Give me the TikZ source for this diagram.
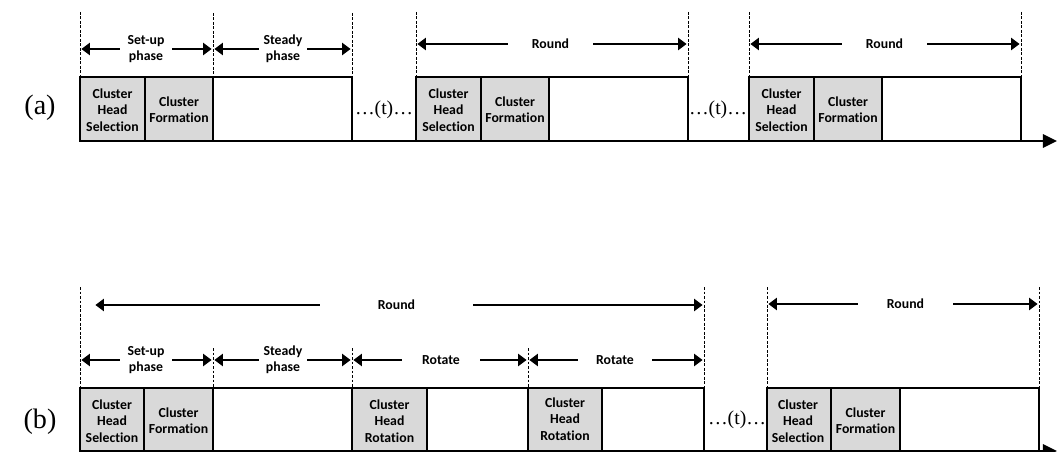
\documentclass[tikz,border=0pt]{standalone}
\usepackage{fontspec}
\setmainfont{Liberation Serif}
\newfontfamily\labelfont[Ligatures=NoCommon]{Carlito}
\usepackage{tikz}
\usetikzlibrary{arrows.meta}
\tikzset{
	cell/.style={draw,line width=1pt},
	head cell/.style={cell,fill=gray!30},
	cell text/.style={font=\labelfont\bfseries\fontsize{9.8}{11.6}\selectfont,align=center,inner sep=0pt},
	span text/.style={cell text,minimum height=0.5cm},
	guide/.style={line width=0.4pt,dash pattern=on 2pt off 1.2pt},
	span/.style={line width=1.5pt,-{Triangle[length=6pt,width=8.5pt]},shorten >=1pt},
	axis/.style={line width=1.4pt,-{Triangle[length=10pt,width=9.5pt]}},
	tag/.style={font=\fontsize{20}{22}\selectfont},
	gap/.style={font=\fontsize{14}{16}\selectfont}
}

\begin{document}
\begin{tikzpicture}[x=0.025cm,y=-0.025cm]
	\useasboundingbox (0,0) rectangle (1057,452);
	%%% (a)
	\coordinate (ga0) at (80,12);
	\coordinate (ga1) at (213,13);
	\coordinate (ga2) at (352,13);
	\coordinate (ga3) at (416,12);
	\coordinate (ga4) at (688,12);
	\coordinate (ga5) at (749,12);
	\coordinate (ga6) at (1021,12);
	\draw[guide] (ga0) -- ++(0,129);
	\draw[guide] (ga1) -- ++(0,130);
	\foreach \g in {ga2,ga3,ga4,ga5,ga6}
		\draw[guide] (\g) -- (\g |- 0,77);
	\node[tag] (ta) at (40,108) {(a)};
	\draw[head cell] (80,77) rectangle (145,141);
	\draw[head cell] (145,77) rectangle (213,141);
	\draw[cell] (213,77) rectangle (352,141);
	\draw[head cell] (416,77) rectangle (481,141);
	\draw[head cell] (481,77) rectangle (549,141);
	\draw[cell] (549,77) rectangle (688,141);
	\draw[head cell] (749,77) rectangle (814,141);
	\draw[head cell] (814,77) rectangle (882,141);
	\draw[cell] (882,77) rectangle (1021,141);
	\node[cell text] (a1) at (112.5,110) {Cluster\\Head\\Selection};
	\node[cell text] (a2) at (179,110) {Cluster\\Formation};
	\node[cell text] (a3) at (448.5,110) {Cluster\\Head\\Selection};
	\node[cell text] (a4) at (515,110) {Cluster\\Formation};
	\node[cell text] (a5) at (781.5,110) {Cluster\\Head\\Selection};
	\node[cell text] (a6) at (848,110) {Cluster\\Formation};
	\node[gap] (ta1) at (384,110) {…(t)…};
	\node[gap] (ta2) at (718,110) {…(t)…};
	\draw[axis] (80,141) -- (1057,141);
	% spans (a)
	\node[span text,minimum width=1.3cm] (sa1) at (146,49) {Set-up\\phase};
	\node[span text,minimum width=1.2cm] (sa2) at (283,49) {Steady\\phase};
	\node[span text,minimum width=2.12cm] (ra1) at (550.5,44) {Round};
	\node[span text,minimum width=2.12cm] (ra2) at (884.5,44) {Round};
	\draw[span] (sa1.west) -- (sa1.west -| ga0);
	\draw[span] (sa1.east) -- (sa1.east -| ga1);
	\draw[span] (sa2.west) -- (sa2.west -| ga1);
	\draw[span] (sa2.east) -- (sa2.east -| ga2);
	\draw[span] (ra1.west) -- (ra1.west -| ga3);
	\draw[span] (ra1.east) -- (ra1.east -| ga4);
	\draw[span] (ra2.west) -- (ra2.west -| ga5);
	\draw[span] (ra2.east) -- (ra2.east -| ga6);
	%%% (b)
	\coordinate (gb0) at (80,287);
	\coordinate (gb1) at (213,348);
	\coordinate (gb2) at (352,348);
	\coordinate (gb3) at (528,348);
	\coordinate (gb4) at (704,287);
	\coordinate (gb5) at (767,287);
	\coordinate (gb6) at (1039,287);
	\foreach \g in {gb0,gb1,gb2,gb3,gb5,gb6}
		\draw[guide] (\g) -- (\g |- 0,388);
	\draw[guide] (gb4) -- (gb4 |- 0,452);
	\node[tag] (tb) at (40,422) {(b)};
	\draw[head cell] (80,388) rectangle (144,451);
	\draw[head cell] (144,388) rectangle (213,451);
	\draw[cell] (213,388) rectangle (352,451);
	\draw[head cell] (352,388) rectangle (427,451);
	\draw[cell] (427,388) rectangle (528,451);
	\draw[head cell] (528,388) rectangle (602,451);
	\draw[cell] (602,388) rectangle (704,451);
	\draw[head cell] (767,388) rectangle (831,451);
	\draw[head cell] (831,388) rectangle (900,451);
	\draw[cell] (900,388) rectangle (1039,451);
	\node[cell text] (b1) at (112,421) {Cluster\\Head\\Selection};
	\node[cell text] (b2) at (178.5,421) {Cluster\\Formation};
	\node[cell text] (b3) at (389.5,421) {Cluster\\Head\\Rotation};
	\node[cell text] (b4) at (565,419) {Cluster\\Head\\Rotation};
	\node[cell text] (b5) at (798,421) {Cluster\\Head\\Selection};
	\node[cell text] (b6) at (865.5,421) {Cluster\\Formation};
	\node[gap] (tb1) at (737,420) {…(t)…};
	\draw[axis] (80,451) -- (1057,451);
	% spans (b)
	\node[span text,minimum width=3.82cm] (rb1) at (396.5,305) {Round};
	\node[span text,minimum width=1.3cm] (sb1) at (146,360) {Set-up\\phase};
	\node[span text,minimum width=1.2cm] (sb2) at (283,360) {Steady\\phase};
	\node[span text,minimum width=1.95cm] (ob1) at (441,360) {Rotate};
	\node[span text,minimum width=1.85cm] (ob2) at (615,360) {Rotate};
	\node[span text,minimum width=2.37cm] (rb2) at (905.5,304) {Round};
	\draw[span] (rb1.west) -- ([xshift=0.35cm]rb1.west -| gb0);
	\draw[span] (rb1.east) -- (rb1.east -| gb4);
	\draw[span] (sb1.west) -- (sb1.west -| gb0);
	\draw[span] (sb1.east) -- (sb1.east -| gb1);
	\draw[span] (sb2.west) -- (sb2.west -| gb1);
	\draw[span] (sb2.east) -- (sb2.east -| gb2);
	\draw[span] (ob1.west) -- (ob1.west -| gb2);
	\draw[span] (ob1.east) -- (ob1.east -| gb3);
	\draw[span] (ob2.west) -- (ob2.west -| gb3);
	\draw[span] (ob2.east) -- (ob2.east -| gb4);
	\draw[span] (rb2.west) -- (rb2.west -| gb5);
	\draw[span] (rb2.east) -- (rb2.east -| gb6);
\end{tikzpicture}
\end{document}
